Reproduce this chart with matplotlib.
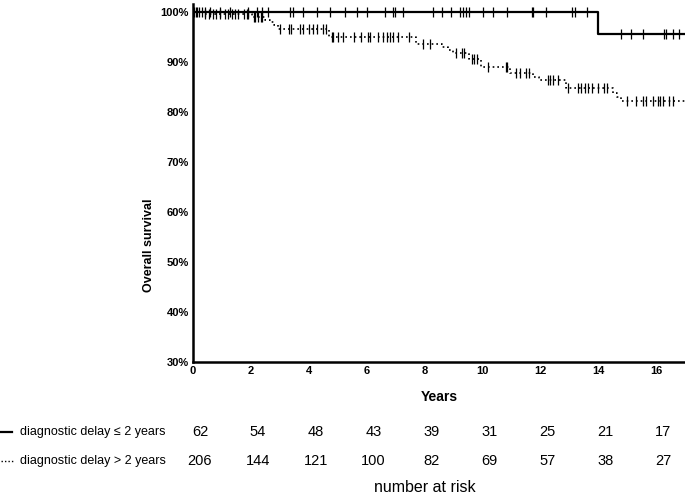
import numpy as np
import matplotlib
matplotlib.use("Agg")
import matplotlib.pyplot as plt
import matplotlib.transforms as mtransforms
from matplotlib.lines import Line2D
from matplotlib import font_manager

# survival step curves (years, % survival)
short_t = [0, 14.0]
short_s = [100, 95.5]
short_cens = [0.05, 0.1, 0.15, 0.2, 0.3, 0.4, 0.59, 0.93, 1.28, 1.9, 2.2, 2.4, 2.6,
              3.36, 3.46, 3.8, 4.3, 4.74, 5.26, 5.67, 6.02, 6.64, 6.92, 6.99, 7.27,
              8.3, 8.6, 8.9, 9.24, 9.34, 9.45, 9.52, 10.03, 10.35, 10.86, 11.7, 11.76,
              12.18, 13.1, 13.2, 13.6, 14.78, 15.12, 15.54, 16.26, 16.33, 16.6, 16.78]

long_t = [0, 0.35, 2.05, 2.5, 2.65, 2.8, 2.95, 4.7, 7.7, 8.6, 8.8, 9.0, 9.55, 9.95,
          10.95, 11.75, 11.95, 12.9, 14.5, 14.65, 14.8]
long_s = [100, 99.6, 98.9, 98.4, 97.9, 97.3, 96.5, 95.0, 93.6, 93.0, 92.4, 91.7, 90.5,
          88.9, 87.7, 87.0, 86.4, 84.7, 83.8, 83.0, 82.1]
long_cens = [0.4, 0.55, 0.7, 0.8, 0.95, 1.1, 1.2, 1.35, 1.45, 1.55, 1.75, 1.85, 1.9,
             2.1, 2.15, 2.25, 2.35, 2.4, 3.0, 3.3, 3.4, 3.7, 3.8, 4.0, 4.15, 4.3, 4.5, 4.6,
             4.8, 4.85, 5.0, 5.2, 5.55, 5.8, 6.05, 6.1, 6.4, 6.55, 6.7, 6.8, 6.9, 7.1, 7.45,
             7.95, 8.2, 9.1, 9.3, 9.35, 9.65, 9.7, 9.8, 10.2, 10.8, 10.85,
             11.15, 11.3, 11.5, 11.6, 12.25, 12.35, 12.45, 12.6,
             12.95, 13.3, 13.4, 13.55, 13.65, 13.8, 14.0, 14.2, 14.3,
             15.0, 15.3, 15.55, 15.65, 15.9, 16.05, 16.15, 16.25, 16.45, 16.6]

risk_years = [0, 2, 4, 6, 8, 10, 12, 14, 16]
risk_short = [62, 54, 48, 43, 39, 31, 25, 21, 17]
risk_long = [206, 144, 121, 100, 82, 69, 57, 38, 27]
row_labels = ["diagnostic delay \u2264 2 years", "diagnostic delay > 2 years"]

x_max = 17.0

names = {f.name for f in font_manager.fontManager.ttflist}
narrow = "Liberation Sans Narrow" if "Liberation Sans Narrow" in names else "Liberation Sans"
plt.rcParams['font.family'] = ['Liberation Sans', 'DejaVu Sans']


def step_value(t, s, x):
    i = np.searchsorted(t, x, side='right') - 1
    return np.array(s)[i]


fig = plt.figure(figsize=(6.85, 4.96), dpi=100)
ax = fig.add_axes([193 / 685, 134 / 496, 1 - 193 / 685, (362 - 4) / 496])

for t, s, cens, ls in [(short_t, short_s, short_cens, '-'),
                       (long_t, long_s, long_cens, (0, (1, 1.8)))]:
    tt = list(t) + [x_max]
    ss = list(s) + [s[-1]]
    lw = 1.6 if ls == '-' else 1.2
    ax.step(tt, np.array(ss) / 100, where='post', color='black', lw=lw, ls=ls)
    cy = step_value(t, s, np.array(cens)) / 100
    ax.plot(cens, cy, ls='none', marker='|', ms=7, mew=0.9, color='black')

ax.set_xlim(0, x_max)
ax.set_ylim(0.3, 1.015)
ax.set_xticks(range(0, 17, 2))
ax.set_yticks(np.arange(0.3, 1.01, 0.1))
ax.set_yticklabels([f"{int(round(v * 100))}%" for v in np.arange(0.3, 1.01, 0.1)])
ax.tick_params(length=0, pad=3, labelsize=8)
for lab in ax.get_xticklabels() + ax.get_yticklabels():
    lab.set_fontweight('bold')
for side in ['top', 'right']:
    ax.spines[side].set_visible(False)
for side in ['left', 'bottom']:
    ax.spines[side].set_linewidth(1.8)
ax.set_xlabel("Years", fontsize=10, fontweight='bold', labelpad=10)
ax.set_ylabel("Overall survival", fontsize=9, fontweight='bold')
ax.yaxis.set_label_coords((155 - 193) / 492, (362 - 245) / 358)

# number at risk table
trans = mtransforms.blended_transform_factory(ax.transData, fig.transFigure)
trans = trans + mtransforms.ScaledTranslation(7 / 100, 0, fig.dpi_scale_trans)
row_y = [1 - 432 / 496, 1 - 461 / 496]
for y, lab, vals in zip(row_y, row_labels, [risk_short, risk_long]):
    fig.text(20 / 685, y, lab, fontsize=9, va='center', ha='left')
    for yr, v in zip(risk_years, vals):
        ax.text(yr, y, str(v), transform=trans, fontsize=10.5, family=narrow,
                ha='center', va='center', clip_on=False)

fig.add_artist(Line2D([1 / 685, 12 / 685], [row_y[0], row_y[0]], color='black', lw=1.6,
                      transform=fig.transFigure))
fig.add_artist(Line2D([1 / 685, 13 / 685], [row_y[1], row_y[1]], color='black', lw=1.0,
                      ls=(0, (1, 1.5)), transform=fig.transFigure))
fig.text(425 / 685, 1 - 488 / 496, "number at risk", fontsize=11.5, ha='center', va='center')

fig.savefig("out.png", dpi=100)
